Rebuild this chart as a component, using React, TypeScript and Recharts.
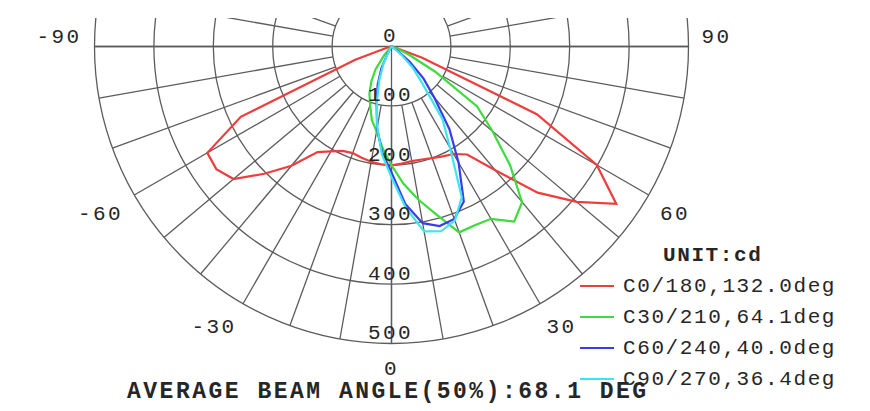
import { RadarChart, PolarGrid, PolarAngleAxis, PolarRadiusAxis, Radar, Legend } from "recharts";

// gamma angle (deg), 0 = straight down, negative = left half
const GAMMA = [
  -90, -85, -80, -75, -70, -65, -60, -55, -50, -45, -40, -35, -30, -25, -20, -15, -10, -5, 0,
  5, 10, 15, 20, 25, 30, 35, 40, 45, 50, 55, 60, 65, 70, 75, 80, 85, 90,
];

// luminous intensity in cd
const C0_180 = [
  0, 0, 0, 8, 65, 280, 358, 360, 347, 303, 262, 217, 204, 194, 191, 194, 197, 199, 200,
  198, 196, 197, 200, 204, 209, 222, 272, 348, 407, 462, 399, 270, 55, 5, 0, 0, 0,
];
const C30_210 = [
  0, 0, 0, 0, 0, 0, 0, 0, 0, 3, 20, 47, 68, 88, 105, 128, 145, 172, 200,
  232, 262, 293, 333, 332, 335, 360, 342, 282, 222, 176, 85, 32, 10, 0, 0, 0, 0,
];
const C60_240 = [
  0, 0, 0, 0, 0, 0, 0, 0, 0, 0, 0, 0, 12, 40, 68, 97, 140, 179, 212,
  266, 302, 313, 309, 288, 226, 170, 112, 76, 40, 12, 0, 0, 0, 0, 0, 0, 0,
];
const C90_270 = [
  0, 0, 0, 0, 0, 0, 0, 0, 0, 0, 0, 0, 8, 32, 60, 95, 138, 183, 220,
  272, 316, 322, 312, 280, 197, 150, 80, 50, 22, 6, 0, 0, 0, 0, 0, 0, 0,
];

const SERIES_KEYS = ["c0", "c30", "c60", "c90"];
const SERIES_NAMES = ["C0/180,132.0deg", "C30/210,64.1deg", "C60/240,40.0deg", "C90/270,36.4deg"];
const SERIES_COLORS = ["#ee3d3d", "#3cdc3c", "#3b3bea", "#3fe4ee"];

const ANGLE_TICKS = [-90, -60, -30, 0, 30, 60, 90];
const RADIUS_TICKS = [0, 100, 200, 300, 400, 500];
const UNIT_LABEL = "UNIT:cd";
const BEAM_NOTE = "AVERAGE BEAM ANGLE(50%):68.1 DEG";

const rows = GAMMA.map((gamma, i) => ({
  gamma,
  c0: C0_180[i],
  c30: C30_210[i],
  c60: C60_240[i],
  c90: C90_270[i],
}));

const MONO = '"Liberation Mono", "DejaVu Sans Mono", monospace';
const TEXT = "#262626";
const GRID = "#5c5c5c";
const TOP = 18;
const W = 870;
const H = 411 - TOP;
const CX = 391.5;
const CY = 46.5 - TOP;
const R = 297;
const NO_MARGIN = { top: 0, right: 0, bottom: 0, left: 0 };
// spokes every 10 deg, they start at the first ring
const SPOKES = Array.from({ length: 36 }, (_, i) => i * 10);
const INNER = (R * RADIUS_TICKS[1]) / RADIUS_TICKS[RADIUS_TICKS.length - 1];

const renderAngleTick = (props: any) => {
  const { x, y, payload, textAnchor } = props;
  const v = payload.value;
  const dy = Math.abs(v) === 90 ? -9 : 13;
  return (
    <text
      x={x}
      y={y + dy}
      textAnchor={textAnchor}
      dominantBaseline="central"
      fill={TEXT}
      style={{ fontFamily: MONO, fontSize: 21, letterSpacing: 2.4 }}
    >
      {v}
    </text>
  );
};

const renderRadiusTick = (props: any) => {
  const { x, y, payload } = props;
  return (
    <text
      x={x - 1}
      y={y - 10}
      textAnchor="middle"
      dominantBaseline="central"
      fill={TEXT}
      style={{ fontFamily: MONO, fontSize: 21, letterSpacing: 2.4 }}
    >
      {payload.value}
    </text>
  );
};

const renderLegend = (props: any) => {
  const payload = props.payload ?? [];
  return (
    <div style={{ fontFamily: MONO, fontSize: 21, letterSpacing: 1.6, color: TEXT }}>
      <div style={{ height: 31, lineHeight: "31px", paddingLeft: 83, fontWeight: 700 }}>{UNIT_LABEL}</div>
      {payload.map((entry: any) => (
        <div key={entry.value} style={{ display: "flex", alignItems: "center", height: 31 }}>
          <span
            style={{ display: "inline-block", width: 34, height: 2, background: entry.color, marginRight: 9 }}
          />
          <span style={{ lineHeight: "31px", whiteSpace: "nowrap" }}>{entry.value}</span>
        </div>
      ))}
    </div>
  );
};

export default function App() {
  return (
    <div
      style={{
        position: "absolute",
        left: 0,
        top: 0,
        width: 870,
        height: 411,
        background: "#fff",
        overflow: "hidden",
      }}
    >
      <div style={{ position: "absolute", left: 0, top: TOP, overflow: "hidden" }}>
        <RadarChart
          width={W}
          height={H}
          cx={CX}
          cy={CY}
          innerRadius={INNER}
          outerRadius={R}
          startAngle={180}
          endAngle={360}
          data={rows}
          margin={NO_MARGIN}
        >
          <PolarGrid gridType="circle" polarAngles={SPOKES} polarRadius={[]} stroke={GRID} strokeWidth={1.3} />
        </RadarChart>
      </div>
      <div style={{ position: "absolute", left: 0, top: TOP, overflow: "hidden" }}>
        <RadarChart
          width={W}
          height={H}
          cx={CX}
          cy={CY}
          innerRadius={0}
          outerRadius={R}
          startAngle={180}
          endAngle={360}
          data={rows}
          margin={NO_MARGIN}
        >
          <PolarGrid gridType="circle" polarAngles={[0, 180, 270]} stroke={GRID} strokeWidth={1.3} />
          <PolarAngleAxis
            dataKey="gamma"
            type="number"
            domain={[-90, 90]}
            ticks={ANGLE_TICKS}
            tick={renderAngleTick}
            tickSize={13}
            tickLine={false}
            axisLine={false}
          />
          <PolarRadiusAxis
            angle={270}
            domain={[0, 500]}
            ticks={RADIUS_TICKS}
            tickCount={6}
            tick={renderRadiusTick}
            axisLine={false}
          />
          {SERIES_KEYS.map((key, i) => (
            <Radar
              key={key}
              dataKey={key}
              name={SERIES_NAMES[i]}
              stroke={SERIES_COLORS[i]}
              fill={SERIES_COLORS[i]}
              fillOpacity={0}
              strokeWidth={2.2}
              dot={false}
              isAnimationActive={false}
            />
          ))}
          <Legend content={renderLegend} wrapperStyle={{ left: 580, top: 239.5 - TOP, width: 290 }} />
        </RadarChart>
      </div>
      <div
        style={{
          position: "absolute",
          left: 127,
          top: 377,
          fontFamily: MONO,
          fontSize: 23,
          lineHeight: "30px",
          letterSpacing: 2.5,
          fontWeight: 700,
          color: TEXT,
          whiteSpace: "nowrap",
        }}
      >
        {BEAM_NOTE}
      </div>
    </div>
  );
}
